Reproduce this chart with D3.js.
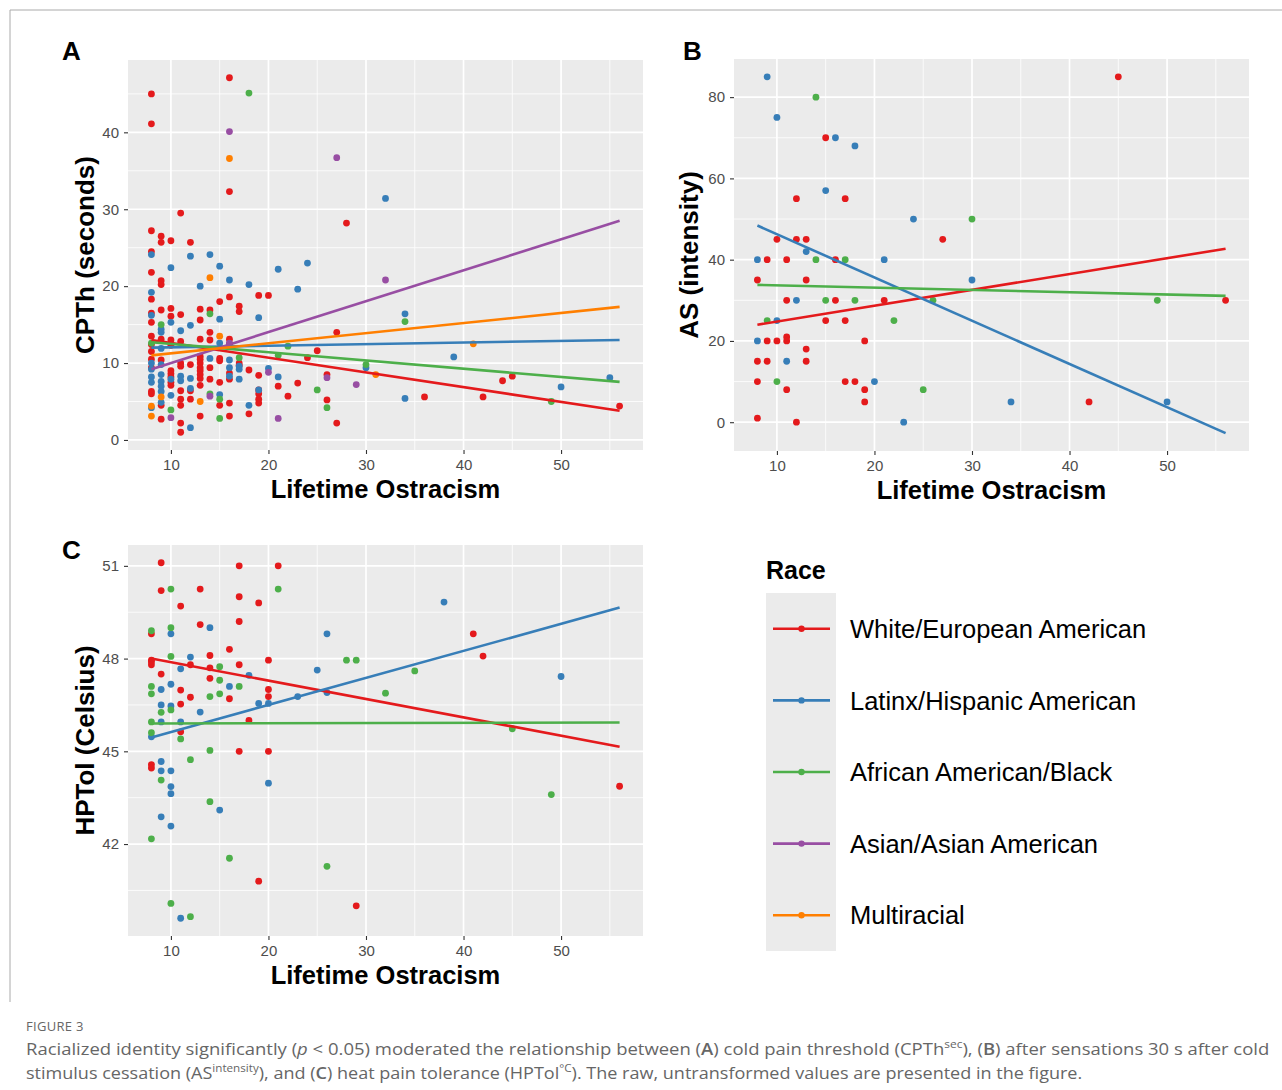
<!DOCTYPE html>
<html><head><meta charset="utf-8">
<script src="https://cdn.jsdelivr.net/npm/d3@7"></script>
<style>body{margin:0;background:#fff}</style>
</head><body>
<svg id="chart" width="1282" height="1090"></svg>
<script>
const races = ["White/European American","Latinx/Hispanic American","African American/Black","Asian/Asian American","Multiracial"];
const raceColors = ["#E41A1C","#377EB8","#4DAF4A","#984EA3","#FF7F00"];
const xTicks = [10,20,30,40,50];
const yTicksA = [0,10,20,30,40];
const yTicksB = [0,20,40,60,80];
const yTicksC = [42,45,48,51];

// Panel A: CPTh (seconds)
const aWhite = [[8,45],[8,41.1],[8,27.2],[8,24.5],[8,21.8],[8,18.3],[8,16.5],[8,15.3],[8,13.5],[8,12.4],[8,11.5],[8,10.5],[8,9.4],[8,6.3],[8,6.0],
[9,26.5],[9,25.7],[9,20.7],[9,20.2],[9,16.9],[9,13.1],[9,10.4],[9,4.5],[9,2.7],
[10,25.9],[10,17.1],[10,16.1],[10,13.0],[10,12.3],[10,9.0],[10,8.6],[10,8.2],[10,7.5],[10,7.1],
[11,29.5],[11,16.3],[11,12.8],[11,10.0],[11,9.6],[11,6.4],[11,5.3],[11,4.5],[11,2.2],[11,1.0],
[12,25.7],[12,9.8],[12,6.4],[12,5.3],
[13,17.0],[13,15.6],[13,13.1],[13,10.9],[13,10.5],[13,10.0],[13,9.4],[13,9.0],[13,8.5],[13,8.0],[13,7.1],[13,3.1],
[14,16.9],[14,14.0],[14,13.0],[14,9.4],[14,7.9],
[15,18.0],[15,10.6],[15,10.3],[15,7.5],[15,4.5],
[16,47.1],[16,32.3],[16,18.6],[16,13.1],[16,12.5],[16,8.7],[16,7.9],[16,4.8],[16,3.1],
[17,17.4],[17,16.7],[17,10.0],[17,9.7],
[18,9.1],[18,3.4],
[19,18.8],[19,8.4],[19,6.5],[19,6.0],[19,5.3],[19,4.8],
[20,18.8],[21,7.0],[22,5.7],[23,7.4],[24,10.7],[25,11.6],[26,8.5],[26,5.2],[27,14.0],[27,2.2],[28,28.2],
[36,5.6],[42,5.6],[44,7.7],[45,8.3],[56,4.4]];
const aLatinx = [[8,24.1],[8,19.2],[8,16.2],[8,10.0],[8,9.2],[8,8.2],[8,7.5],[8,4.2],
[9,14.4],[9,14.0],[9,11.9],[9,9.8],[9,8.5],[9,7.6],[9,7.0],[9,6.3],[9,4.9],
[10,22.4],[10,15.3],[10,7.9],[10,5.8],
[11,14.2],[11,8.3],[11,7.7],
[12,23.9],[12,14.9],[12,8.0],[12,6.7],[12,1.6],
[13,20.0],[14,24.1],[14,10.6],
[15,22.6],[15,15.7],[15,12.6],[15,5.9],
[16,20.8],[16,10.4],[16,9.4],[16,8.3],
[17,9.6],[17,9.2],[17,7.9],
[18,20.2],[18,4.5],[19,15.9],[19,6.5],[20,9.3],[21,22.2],[21,8.2],[23,19.6],[24,23.0],
[30,9.4],[32,31.4],[34,16.4],[34,5.4],[39,10.8],[50,6.9],[55,8.1]];
const aBlack = [[8,12.6],[9,15.0],[10,3.9],[14,16.4],[14,6.0],[15,5.3],[15,2.8],[17,10.7],[18,45.1],[21,11.0],[22,12.2],[25,6.5],[26,4.2],[30,9.8],[34,15.4],[49,5.0]];
const aAsian = [[10,2.9],[14,5.7],[16,40.1],[16,12.6],[20,8.8],[21,2.8],[26,8.1],[27,36.7],[29,7.2],[32,20.8]];
const aMulti = [[8,4.4],[8,3.1],[9,5.6],[13,5.0],[14,21.1],[15,13.5],[16,36.6],[31,8.5],[41,12.5]];
// fitted lines [x0, y0, x1, y1] per race
const fitA = [[8,13.0,56,3.8],[8,12.0,56,13.0],[8,12.7,56,7.55],[8,9.2,56,28.5],[8,11.0,56,17.3]];

// Panel B: AS (intensity)
const bWhite = [[8,35],[8,15],[8,10],[8,1],[9,40],[9,20],[9,15],[10,45],[10,20],[11,40],[11,30],[11,21],[11,20],[11,8],[12,55],[12,45],[12,0],[13,45],[13,35],[13,18],[13,15],[15,70],[15,25],[16,40],[16,30],[17,55],[17,25],[17,10],[18,10],[19,20],[19,8],[19,5],[21,30],[27,45],[42,5],[45,85],[56,30]];
const bLatinx = [[8,40],[8,20],[9,85],[10,75],[10,25],[11,15],[12,30],[13,42],[15,57],[16,70],[18,68],[20,10],[21,40],[23,0],[24,50],[30,35],[34,5],[50,5]];
const bBlack = [[9,25],[10,10],[14,80],[14,40],[15,30],[17,40],[18,30],[22,25],[25,8],[26,30],[30,50],[49,30]];
const fitB = [[8,24.0,56,42.7],[8,48.4,56,-2.7],[8,33.8,56,31.1]];

// Panel C: HPTol (Celsius)
const cWhite = [[9,51.1],[9,50.2],[13,50.25],[11,49.7],[13,49.1],[17,51.0],[17,50.0],[17,49.2],[19,49.8],[21,51.0],[8,48.8],[14,48.1],[16,48.3],[8,47.95],[8,47.9],[8,47.8],[12,47.8],[17,47.8],[20,47.95],[14,47.7],[9,47.5],[14,47.36],[11,46.98],[20,47.0],[12,46.75],[16,46.7],[20,46.77],[11,46.53],[18,46.0],[11,45.63],[17,45.0],[20,45.0],[8,44.57],[8,44.46],[19,40.8],[29,40.0],[41,48.8],[42,48.08],[56,43.87]];
const cLatinx = [[14,49.0],[10,48.8],[26,48.8],[12,48.05],[11,47.67],[25,47.63],[18,47.46],[10,47.17],[16,47.1],[9,47.0],[23,46.77],[26,46.9],[9,46.5],[10,46.47],[19,46.55],[20,46.55],[13,46.27],[9,45.95],[11,45.95],[8,45.47],[9,44.67],[9,44.37],[10,44.37],[10,43.86],[10,43.63],[20,43.97],[15,43.1],[9,42.88],[10,42.58],[11,39.6],[38,49.83],[50,47.42]];
const cBlack = [[10,50.25],[21,50.25],[8,48.9],[10,49.0],[10,48.07],[28,47.95],[29,47.95],[15,47.74],[15,47.3],[8,47.1],[17,47.1],[8,46.86],[14,46.77],[15,46.86],[10,46.34],[9,46.26],[8,45.95],[8,45.6],[11,45.4],[14,45.03],[12,44.73],[9,44.07],[14,43.37],[8,42.17],[16,41.54],[26,41.28],[10,40.08],[12,39.65],[35,47.6],[32,46.88],[45,45.73],[49,43.6]];
const fitC = [[8,48.0,56,45.15],[8,45.45,56,49.65],[8,45.9,56,45.93]];

const svg = d3.select("#chart");
const FONT = "'Liberation Sans', Arial, sans-serif";

// outer frame
svg.append("line").attr("x1",10).attr("y1",10).attr("x2",1282).attr("y2",10).attr("stroke","#aaa").attr("stroke-width",1);
svg.append("line").attr("x1",10).attr("y1",10).attr("x2",10).attr("y2",1002).attr("stroke","#aaa").attr("stroke-width",1);

function expand(vals){
  const lo = d3.min(vals), hi = d3.max(vals), r = hi - lo;
  return [lo - 0.05*r, hi + 0.05*r];
}
function minors(ticks, dom){
  const step = ticks[1]-ticks[0], out=[];
  for(let v = ticks[0]-step/2; v <= ticks[ticks.length-1]+step/2+1e-9; v += step){
    if(v>=dom[0] && v<=dom[1]) out.push(v);
  }
  return out;
}

function panel(cfg){
  const {left,right,top,bottom,groups,fits,yTicks,yTitle,letter,letterX,letterY,yTitleX} = cfg;
  const allX=[], allY=[];
  groups.forEach(g=>g.forEach(p=>{allX.push(p[0]);allY.push(p[1]);}));
  fits.forEach(f=>{allX.push(f[0],f[2]);allY.push(f[1],f[3]);});
  const xd = expand(allX), yd = expand(allY);
  const x = d3.scaleLinear().domain(xd).range([left,right]);
  const y = d3.scaleLinear().domain(yd).range([bottom,top]);
  const g = svg.append("g");
  g.append("rect").attr("x",left).attr("y",top).attr("width",right-left).attr("height",bottom-top).attr("fill","#EBEBEB");
  minors(yTicks,yd).forEach(v=>g.append("line").attr("x1",left).attr("x2",right).attr("y1",y(v)).attr("y2",y(v)).attr("stroke","#fff").attr("stroke-width",0.8));
  minors(xTicks,xd).forEach(v=>g.append("line").attr("y1",top).attr("y2",bottom).attr("x1",x(v)).attr("x2",x(v)).attr("stroke","#fff").attr("stroke-width",0.8));
  yTicks.forEach(v=>g.append("line").attr("x1",left).attr("x2",right).attr("y1",y(v)).attr("y2",y(v)).attr("stroke","#fff").attr("stroke-width",1.7));
  xTicks.forEach(v=>g.append("line").attr("y1",top).attr("y2",bottom).attr("x1",x(v)).attr("x2",x(v)).attr("stroke","#fff").attr("stroke-width",1.7));
  const ya = d3.axisLeft(y).tickValues(yTicks).tickSize(4).tickPadding(5);
  const yg = g.append("g").attr("transform",`translate(${left},0)`).call(ya);
  const xa = d3.axisBottom(x).tickValues(xTicks).tickSize(4).tickPadding(5);
  const xg = g.append("g").attr("transform",`translate(0,${bottom})`).call(xa);
  [yg,xg].forEach(a=>{
    a.select(".domain").remove();
    a.selectAll(".tick line").attr("stroke","#333").attr("stroke-width",1.1);
    a.selectAll(".tick text").attr("fill","#4D4D4D").style("font-family",FONT).style("font-size","15px");
  });
  groups.forEach((pts,i)=>{
    g.append("g").selectAll("circle").data(pts).join("circle")
      .attr("cx",d=>x(d[0])).attr("cy",d=>y(d[1])).attr("r",3.4).attr("fill",raceColors[i]);
  });
  const line = d3.line().x(d=>x(d[0])).y(d=>y(d[1]));
  fits.forEach((f,i)=>{
    g.append("path").attr("d",line([[f[0],f[1]],[f[2],f[3]]])).attr("stroke",raceColors[i]).attr("stroke-width",2.6).attr("fill","none");
  });
  g.append("text").attr("x",(left+right)/2).attr("y",bottom+48).attr("text-anchor","middle")
    .style("font-family",FONT).style("font-weight","bold").style("font-size","25.5px").attr("fill","#000").text("Lifetime Ostracism");
  g.append("text").attr("transform",`translate(${yTitleX},${(top+bottom)/2}) rotate(-90)`).attr("text-anchor","middle")
    .style("font-family",FONT).style("font-weight","bold").style("font-size","26px").attr("fill","#000").text(yTitle);
  g.append("text").attr("x",letterX).attr("y",letterY)
    .style("font-family",FONT).style("font-weight","bold").style("font-size","26px").attr("fill","#000").text(letter);
}

panel({left:128,right:643,top:60,bottom:450,groups:[aWhite,aLatinx,aBlack,aAsian,aMulti],fits:fitA,yTicks:yTicksA,
  yTitle:"CPTh (seconds)",yTitleX:94,letter:"A",letterX:62,letterY:60});
panel({left:734,right:1249,top:59,bottom:451,groups:[bWhite,bLatinx,bBlack],fits:fitB,yTicks:yTicksB,
  yTitle:"AS (intensity)",yTitleX:698,letter:"B",letterX:683,letterY:60});
panel({left:128,right:643,top:545,bottom:936,groups:[cWhite,cLatinx,cBlack],fits:fitC,yTicks:yTicksC,
  yTitle:"HPTol (Celsius)",yTitleX:94,letter:"C",letterX:62,letterY:559});

// legend
const lg = svg.append("g");
lg.append("text").attr("x",766).attr("y",579).style("font-family",FONT).style("font-weight","bold").style("font-size","25px").text("Race");
const keyY = d3.scaleBand().domain(races).range([593,951]);
lg.append("rect").attr("x",766).attr("y",593).attr("width",70).attr("height",358).attr("fill","#EBEBEB");
races.forEach((r,i)=>{
  const cy = keyY(r)+keyY.bandwidth()/2;
  lg.append("line").attr("x1",773).attr("x2",830).attr("y1",cy).attr("y2",cy).attr("stroke",raceColors[i]).attr("stroke-width",2.6);
  lg.append("circle").attr("cx",801.5).attr("cy",cy).attr("r",3.2).attr("fill",raceColors[i]);
  lg.append("text").attr("x",850).attr("y",cy).attr("dy","0.36em").style("font-family",FONT).style("font-size","25.5px").attr("fill","#000").text(r);
});

// caption
const CF = "'Open Sans', 'Noto Sans', sans-serif";
svg.append("text").attr("x",26).attr("y",1031).style("font-family",CF).style("font-size","13px").attr("fill","#666").attr("letter-spacing","0.3px").text("FIGURE 3");
function capLine(yb, parts, targetW){
  const t = svg.append("text").attr("y",yb).style("font-family",CF).style("font-size","17px").attr("fill","#666");
  parts.forEach(p=>{
    const ts = t.append("tspan").text(p.t);
    if(p.i) ts.style("font-style","italic");
    if(p.b) ts.style("font-weight","600");
    if(p.sup){ ts.style("font-size","11px").attr("dy",-7); }
    if(p.after){ ts.attr("dy",7); }
  });
  const w = t.node().getComputedTextLength();
  t.attr("transform",`translate(26,0) scale(${targetW/w},1)`);
}
capLine(1055,[{t:"Racialized identity significantly ("},{t:"p",i:1},{t:" < 0.05) moderated the relationship between ("},{t:"A",b:1},{t:") cold pain threshold (CPTh"},{t:"sec",sup:1},{t:"), (",after:1},{t:"B",b:1},{t:") after sensations 30 s after cold"}],1244);
capLine(1079,[{t:"stimulus cessation (AS"},{t:"intensity",sup:1},{t:"), and (",after:1},{t:"C",b:1},{t:") heat pain tolerance (HPTol"},{t:"°C",sup:1},{t:"). The raw, untransformed values are presented in the figure.",after:1}],1057);
</script>
</body></html>
